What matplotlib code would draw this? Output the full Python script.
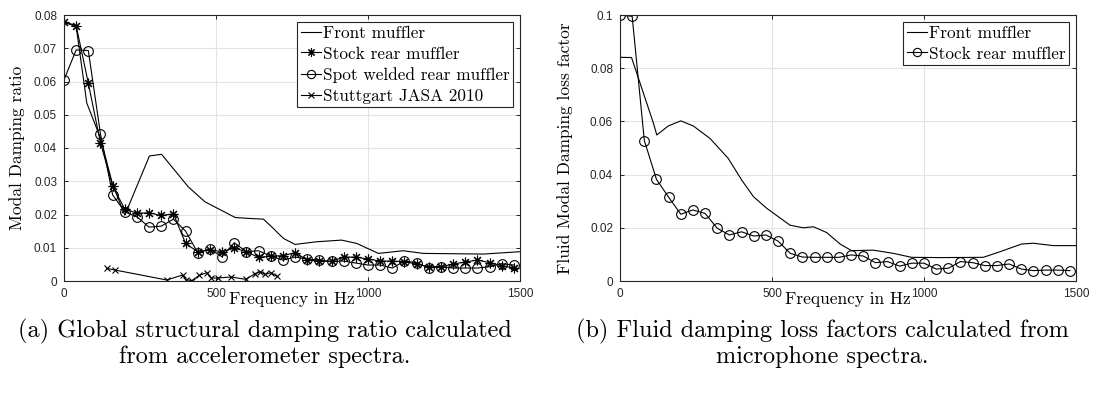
import numpy as np
import matplotlib.pyplot as plt

# ---- left panel: structural damping ratio
freq = np.arange(0, 1500, 40)  # 0, 40, ..., 1480

stock_rear = [0.0780, 0.0768, 0.0595, 0.0415, 0.0286, 0.0216, 0.0204, 0.0205, 0.0197, 0.0202,
              0.0113, 0.0088, 0.0094, 0.0088, 0.0099, 0.0088, 0.0071, 0.0075, 0.0076, 0.0085,
              0.0063, 0.0060, 0.0059, 0.0072, 0.0072, 0.0066, 0.0060, 0.0060, 0.0058, 0.0051,
              0.0043, 0.0043, 0.0051, 0.0057, 0.0063, 0.0055, 0.0046, 0.0039]
spot_welded = [0.0605, 0.0695, 0.0693, 0.0442, 0.0259, 0.0208, 0.0193, 0.0162, 0.0165, 0.0186,
               0.0150, 0.0085, 0.0096, 0.0073, 0.0115, 0.0088, 0.0091, 0.0075, 0.0063, 0.0072,
               0.0066, 0.0063, 0.0059, 0.0060, 0.0054, 0.0048, 0.0048, 0.0039, 0.0060, 0.0055,
               0.0039, 0.0043, 0.0039, 0.0039, 0.0039, 0.0043, 0.0052, 0.0048]

front_a_f = [0, 40, 75, 120, 160, 200, 281, 321, 409, 464, 563, 612, 656, 683, 722, 760,
             831, 913, 963, 1034, 1116, 1182, 1380, 1498]
front_a = [0.0778, 0.0765, 0.0535, 0.0430, 0.0290, 0.0198, 0.0376, 0.0381, 0.0283, 0.0238,
           0.0191, 0.0188, 0.0186, 0.0163, 0.0128, 0.0110, 0.0118, 0.0123, 0.0113, 0.0083,
           0.0091, 0.0083, 0.0081, 0.0088]

stutt_f = [140, 168, 338, 390, 402, 420, 445, 470, 485, 505, 550, 598, 628, 645, 662, 680, 700]
stutt = [0.0038, 0.0033, 0.0003, 0.0018, 0.0004, 0.0001, 0.0017, 0.0025, 0.0009, 0.0009,
         0.0012, 0.0005, 0.0022, 0.0028, 0.0020, 0.0025, 0.0014]

# ---- right panel: fluid loss factor
stock_rear_b = [0.1000, 0.0995, 0.0528, 0.0382, 0.0315, 0.0251, 0.0267, 0.0254, 0.0198, 0.0173,
                0.0185, 0.0169, 0.0173, 0.0150, 0.0104, 0.0090, 0.0089, 0.0089, 0.0089, 0.0098,
                0.0094, 0.0069, 0.0073, 0.0056, 0.0067, 0.0067, 0.0045, 0.0048, 0.0073, 0.0069,
                0.0058, 0.0058, 0.0064, 0.0045, 0.0039, 0.0041, 0.0041, 0.0039]

front_b_f = [0, 38, 110, 121, 159, 200, 241, 296, 356, 400, 439, 483, 559, 603, 636, 680,
             724, 762, 833, 899, 959, 1053, 1195, 1250, 1321, 1360, 1425, 1500]
front_b = [0.0841, 0.0840, 0.0593, 0.0549, 0.0583, 0.0602, 0.0583, 0.0536, 0.0461, 0.0380,
           0.0317, 0.0273, 0.0210, 0.0200, 0.0204, 0.0182, 0.0139, 0.0114, 0.0116, 0.0104,
           0.0089, 0.0088, 0.0089, 0.0110, 0.0139, 0.0142, 0.0133, 0.0133]

serif = 'cmr10'
sans = 'Liberation Sans'

fig = plt.figure(figsize=(10.94, 3.96), dpi=100)
ax1 = fig.add_axes([64/1094, 115/396, 456/1094, 266/396])
ax2 = fig.add_axes([620/1094, 115/396, 456/1094, 266/396])

lw = 0.8
star = (8, 2, 0)
ax1.plot(front_a_f, front_a, color='k', lw=lw, label='Front muffler')
ax1.plot(freq, stock_rear, color='k', lw=lw, marker=star, ms=7, mew=0.8,
         label='Stock rear muffler')
ax1.plot(freq, spot_welded, color='k', lw=lw, marker='o', ms=7, mfc='none', mew=0.8,
         label='Spot welded rear muffler')
ax1.plot(stutt_f, stutt, color='k', lw=lw, marker='x', ms=5, mew=0.8,
         label='Stuttgart JASA 2010')
ax1.set_ylim(0, 0.08)
ax1.set_yticks(np.arange(0, 0.081, 0.01))
ax1.set_yticklabels(['0', '0.01', '0.02', '0.03', '0.04', '0.05', '0.06', '0.07', '0.08'])
ax1.set_ylabel('Modal Damping ratio', family=serif, fontsize=12.5, va='center')
ax1.yaxis.set_label_coords(-0.103, 0.5)

ax2.plot(front_b_f, front_b, color='k', lw=lw, label='Front muffler')
ax2.plot(freq, stock_rear_b, color='k', lw=lw, marker='o', ms=7, mfc='none', mew=0.8,
         label='Stock rear muffler')
ax2.set_ylim(0, 0.1)
ax2.set_yticks(np.arange(0, 0.101, 0.02))
ax2.set_yticklabels(['0', '0.02', '0.04', '0.06', '0.08', '0.1'])
ax2.set_ylabel('Fluid Modal Damping loss factor', family=serif, fontsize=12.5, va='center')
ax2.yaxis.set_label_coords(-0.121, 0.5)

for ax in (ax1, ax2):
    ax.set_xlim(0, 1500)
    ax.set_xticks([0, 500, 1000, 1500])
    ax.set_xlabel('Frequency in Hz', family=serif, fontsize=12.5, va='center')
    ax.xaxis.set_label_coords(0.5, -0.07)
    ax.grid(True, color='#e3e3e3', lw=0.8)
    ax.set_axisbelow(True)
    ax.tick_params(direction='in', top=True, right=True, length=3, width=0.6,
                   labelsize=8.5, pad=5)
    for lab in ax.get_xticklabels() + ax.get_yticklabels():
        lab.set_family(sans)
        lab.set_color('#262626')
    for s in ax.spines.values():
        s.set_linewidth(0.8)
        s.set_color('#262626')
    leg = ax.legend(loc='upper right', prop={'family': serif, 'size': 12.4},
                    fancybox=False, edgecolor='#262626', framealpha=1,
                    handlelength=1.2, handletextpad=0.1, borderpad=0.2,
                    labelspacing=0.32, borderaxespad=0.4, markerscale=0.85)
    leg.get_frame().set_linewidth(0.8)

fig.text(265/1094, 1 - 331/396, '(a) Global structural damping ratio calculated',
         family=serif, fontsize=17.5, ha='center', va='center')
fig.text(265/1094, 1 - 357/396, 'from accelerometer spectra.',
         family=serif, fontsize=17.5, ha='center', va='center')
fig.text(822/1094, 1 - 331/396, '(b) Fluid damping loss factors calculated from',
         family=serif, fontsize=17.5, ha='center', va='center')
fig.text(822/1094, 1 - 357/396, 'microphone spectra.',
         family=serif, fontsize=17.5, ha='center', va='center')

fig.savefig('out.png', dpi=100)
